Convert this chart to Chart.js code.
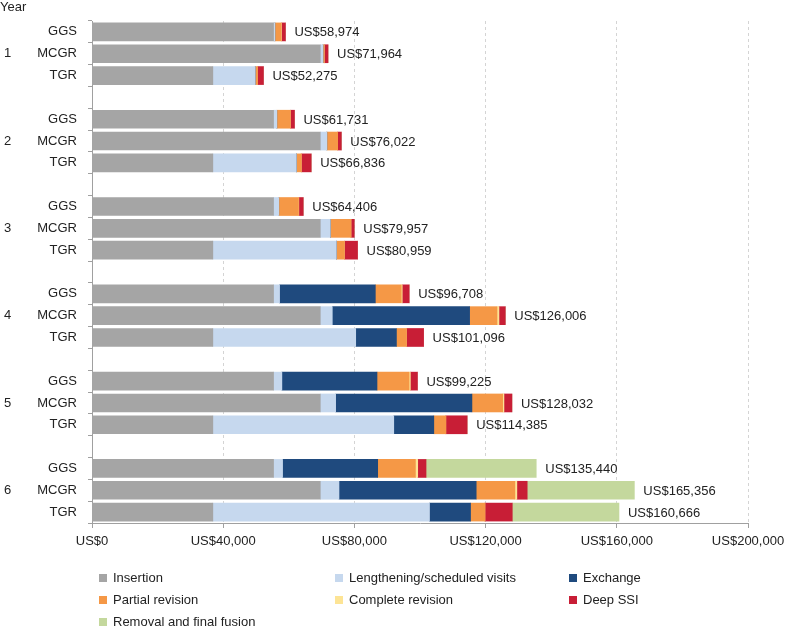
<!DOCTYPE html>
<html><head><meta charset="utf-8">
<script src="https://cdn.jsdelivr.net/npm/chart.js@4.4.1/dist/chart.umd.min.js"></script>
<style>
html,body{margin:0;padding:0;background:#fff;}
#wrap{position:relative;width:785px;height:633px;font-family:"Liberation Sans",Arial,sans-serif;color:#222;overflow:hidden;}
#c{position:absolute;left:0;top:0;}
#yearTitle{position:absolute;left:0;top:-1px;font-size:13px;line-height:15px;}
.lg{position:absolute;font-size:13px;line-height:15px;white-space:nowrap;}
.lg i{position:absolute;left:-14px;width:8px;height:8px;top:4px;}
</style></head><body>
<div id="wrap"><canvas id="c" width="785" height="633"></canvas><div id="yearTitle">Year</div><div id="legend"></div></div>
<script>
const years = ['1','2','3','4','5','6'];
const groups = ['GGS','MCGR','TGR'];
// order in each array: Y1 GGS, Y1 MCGR, Y1 TGR, Y2 GGS, ... Y6 TGR
const insertion   = [55350,69600,36840, 55350,69600,36840, 55350,69600,36840, 55350,69600,36840, 55350,69600,36840, 55350,69600,36840];
const lengthening = [400,800,12900, 1000,2000,25450, 1600,3050,37650, 1830,3660,43560, 2540,4680,55160, 2750,5700,66050];
const exchange    = [0,0,0, 0,0,0, 0,0,0, 29200,41866,12420, 29000,41552,12210, 29000,41830,12520];
const partialRev  = [1900,400,700, 4100,3300,1500, 6000,6300,2440, 7900,8350,3050, 9770,9360,3660, 11500,11800,4380];
const completeRev = [100,0,0, 0,0,0, 100,0,0, 300,600,0, 400,400,0, 700,600,0];
const deepSSI     = [1224,1164,1835, 1281,1122,3046, 1356,1007,4029, 2128,1930,5226, 2165,2440,6515, 2540,3150,8340];
const removal     = [0,0,0, 0,0,0, 0,0,0, 0,0,0, 0,0,0, 33600,32676,32536];
const totals      = [58974,71964,52275, 61731,76022,66836, 64406,79957,80959, 96708,126006,101096, 99225,128032,114385, 135440,165356,160666];
const xTicks = [0,40000,80000,120000,160000,200000];

const seriesNames = ['Insertion','Lengthening/scheduled visits','Exchange','Partial revision','Complete revision','Deep SSI','Removal and final fusion'];
const seriesData = [insertion,lengthening,exchange,partialRev,completeRev,deepSSI,removal];
const seriesColors = ['#a5a5a5','#c6d8ee','#1f4a7e','#f59846','#fde495','#c81e36','#c4d89d'];

// build slot layout: 3 bars per year then an empty gap slot
const catLabels = [], yearLabels = [], slotOf = [];
years.forEach((yr, i) => {
  groups.forEach((g, j) => {
    slotOf.push(catLabels.length);
    catLabels.push(g);
    yearLabels.push(j === 1 ? yr : '');
  });
  if (i < years.length - 1) { catLabels.push(''); yearLabels.push(''); }
});
function toSlots(arr){
  const out = catLabels.map(() => null);
  arr.forEach((v, k) => { out[slotOf[k]] = v; });
  return out;
}
const datasets = seriesNames.map((n, s) => ({
  label: n, data: toSlots(seriesData[s]), backgroundColor: seriesColors[s],
  borderWidth: 0, barThickness: 18, yAxisID: 'y'
}));

const FONT = '"Liberation Sans", Arial, sans-serif';
const totalLabels = {
  id: 'totalLabels',
  afterDatasetsDraw(chart){
    const ctx = chart.ctx, xs = chart.scales.x, ys = chart.scales.y;
    ctx.save();
    ctx.font = '13px ' + FONT;
    ctx.fillStyle = '#222';
    ctx.textAlign = 'left';
    ctx.textBaseline = 'middle';
    totals.forEach((t, k) => {
      const x = xs.getPixelForValue(t) + 9;
      const y = ys.getPixelForValue(slotOf[k]) + 1;
      ctx.fillText('US$' + t.toLocaleString('en-US'), x, y);
    });
    ctx.restore();
  }
};

new Chart(document.getElementById('c'), {
  type: 'bar',
  data: { labels: catLabels, datasets },
  options: {
    indexAxis: 'y', responsive: false, animation: false, devicePixelRatio: 1,
    layout: { padding: { left: 4, right: 37, top: 21, bottom: 80 } },
    plugins: { legend: { display: false }, tooltip: { enabled: false } },
    scales: {
      x: {
        stacked: true, min: 0, max: 200000,
        afterBuildTicks(s){ s.ticks = xTicks.map(v => ({ value: v })); },
        ticks: { font: { family: FONT, size: 13 }, color: '#222', padding: 6, maxRotation: 0,
          callback: v => 'US$' + Number(v).toLocaleString('en-US') },
        grid: { color: '#d4d4d4', tickColor: '#a0a0a0', tickLength: 5, drawOnChartArea: true },
        border: { display: true, color: '#a0a0a0', dash: [3,3] , width: 1},
        afterFit(s){ s.height = 30; s.paddingLeft = 0; s.paddingRight = 0; }
      },
      y: {
        stacked: true, type: 'category', labels: catLabels, offset: true,
        ticks: { font: { family: FONT, size: 13 }, color: '#222', padding: 11, autoSkip: false },
        grid: { drawOnChartArea: false, drawTicks: true, tickLength: 4, tickColor: '#a0a0a0', offset: true },
        border: { display: true, color: '#a0a0a0' },
        afterFit(s){ s.width = 62; }
      },
      y2: {
        type: 'category', position: 'left', weight: 1, labels: yearLabels, offset: true,
        ticks: { font: { family: FONT, size: 13 }, color: '#222', crossAlign: 'far', autoSkip: false, padding: 0 },
        grid: { display: false, drawTicks: false }, border: { display: false },
        afterFit(s){ s.width = 26; }
      }
    }
  },
  plugins: [totalLabels]
});

// legend (HTML, 3 columns)
const colX = [113, 349, 583], rowY = [570, 592, 614];
const lg = document.getElementById('legend');
seriesNames.forEach((n, k) => {
  const d = document.createElement('div');
  d.className = 'lg';
  d.style.left = colX[k % 3] + 'px';
  d.style.top = rowY[Math.floor(k / 3)] + 'px';
  const b = document.createElement('i');
  b.style.background = seriesColors[k];
  d.appendChild(b);
  d.appendChild(document.createTextNode(n));
  lg.appendChild(d);
});
</script>
</body></html>
